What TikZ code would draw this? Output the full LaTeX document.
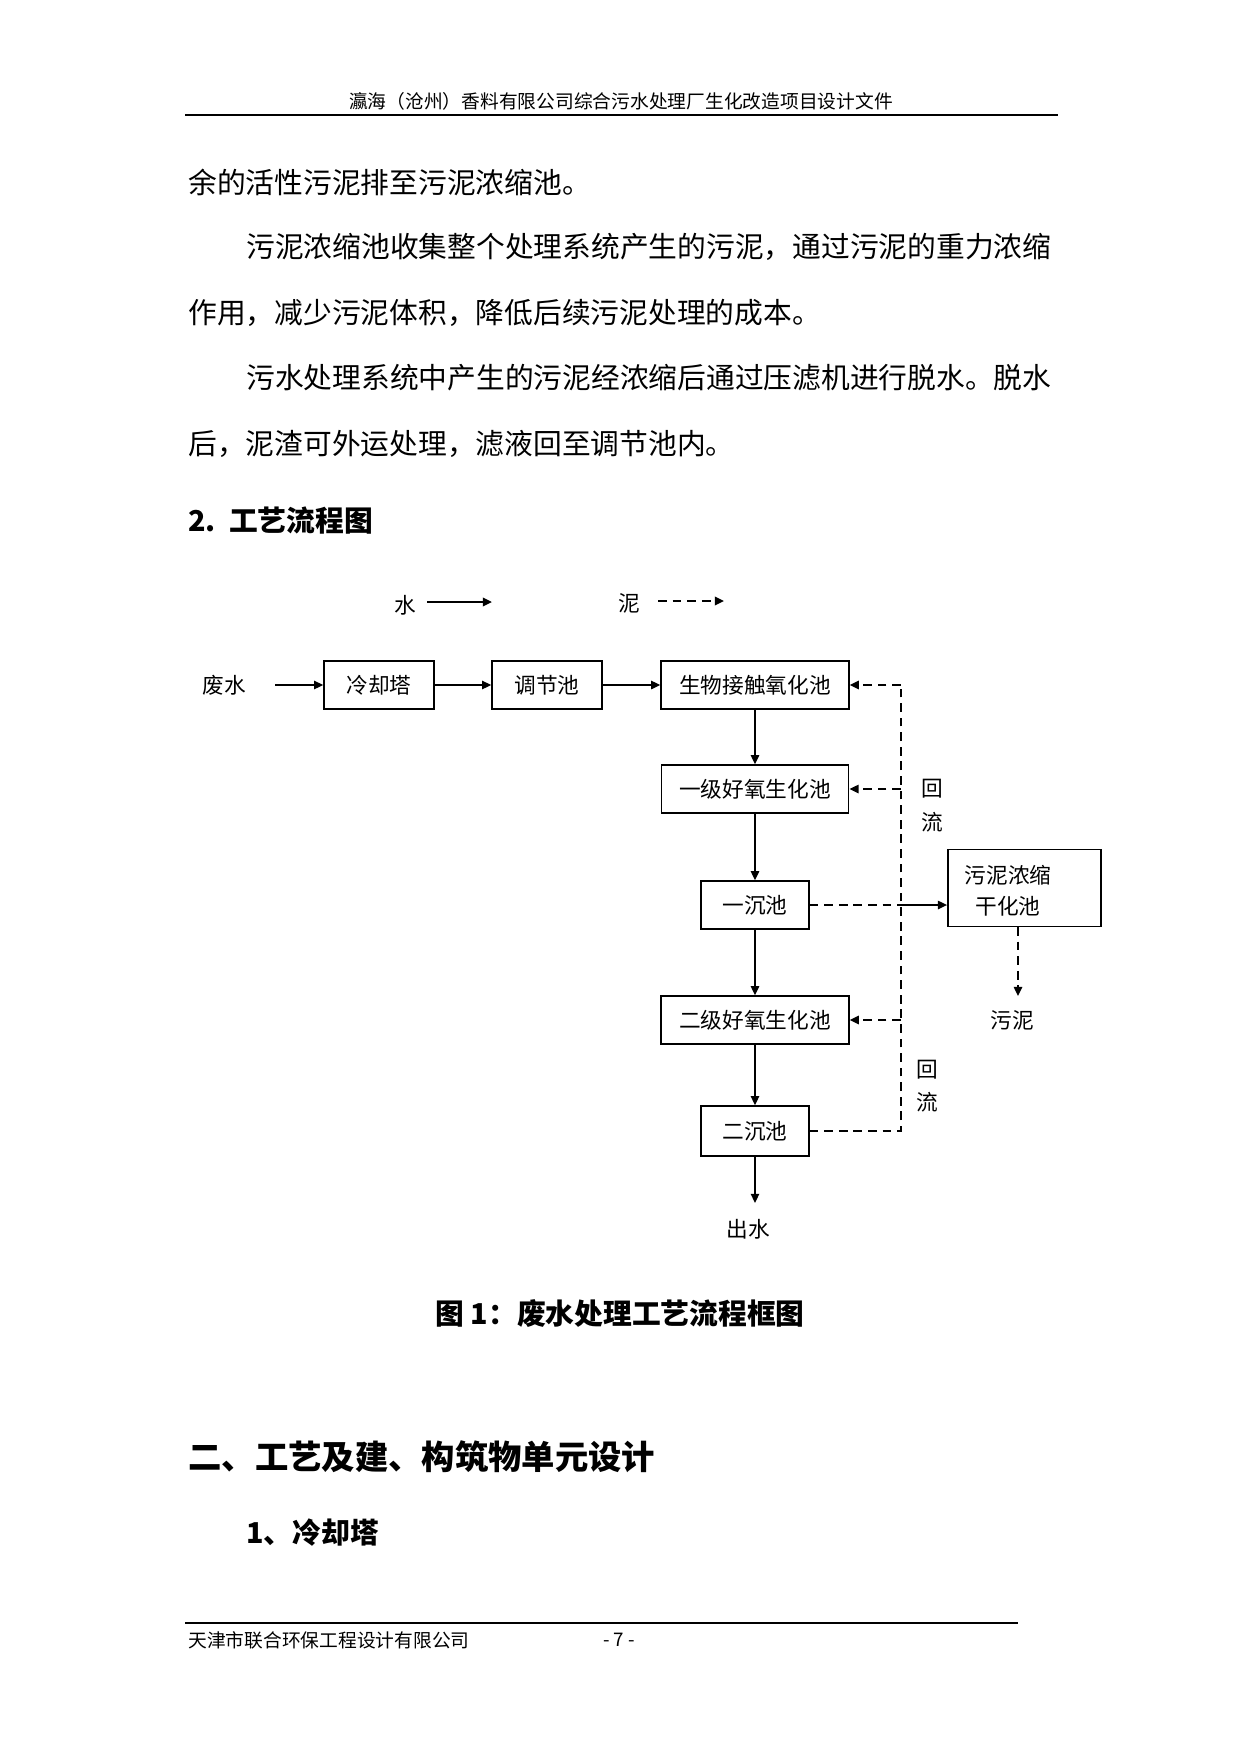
\documentclass[tikz,border=0pt]{standalone}
\usepackage{fontspec}
\setmainfont{Noto Sans CJK SC}
\usetikzlibrary{arrows.meta}
\tikzset{
  body/.style={anchor=west,inner sep=0pt,font=\fontsize{13.8pt}{16pt}\selectfont},
  small/.style={inner sep=0pt,font=\fontsize{9pt}{11pt}\selectfont},
  dlab/.style={inner sep=0pt,font=\fontsize{10.4pt}{12pt}\selectfont},
  box/.style={draw,line width=0.7pt,inner sep=0pt,minimum height=23pt,font=\fontsize{10.4pt}{12pt}\selectfont},
  flow/.style={line width=0.75pt,-{Triangle[length=4.4pt,width=4pt]}},
  sflow/.style={line width=0.9pt,dash pattern=on 4.2pt off 2.8pt},
  sarrow/.style={sflow,-{Triangle[length=4.4pt,width=4pt]}}
}
\begin{document}
\begin{tikzpicture}[x=0.48pt,y=-0.48pt]
\useasboundingbox[fill=white] (0,0) rectangle (1241,1754);
% header
\node[small] (hd) at (621,101) {瀛海（沧州）香料有限公司综合污水处理厂生化改造项目设计文件};
\coordinate (hl1) at (185,115); \coordinate (hl2) at (1058,115);
\draw[line width=1.1pt] (hl1) -- (hl2);
% body text
\node[body] (t1) at (188,182) {余的活性污泥排至污泥浓缩池。};
\node[body] (t2) at (246,247) {污泥浓缩池收集整个处理系统产生的污泥，通过污泥的重力浓缩};
\node[body] (t3) at (188,313) {作用，减少污泥体积，降低后续污泥处理的成本。};
\node[body] (t4) at (246,378) {污水处理系统中产生的污泥经浓缩后通过压滤机进行脱水。脱水};
\node[body] (t5) at (188,444) {后，泥渣可外运处理，滤液回至调节池内。};
\node[body,font=\fontsize{13.8pt}{16pt}\selectfont\bfseries] (h2) at (188,521) {2.\ \ 工艺流程图};
% legend
\node[dlab] (lw) at (405,605) {水};
\coordinate (lwa) at (427,602); \coordinate (lwb) at (492,602);
\draw[flow,line width=1.1pt] (lwa) -- (lwb);
\node[dlab] (ls) at (629,603) {泥};
\coordinate (lsa) at (658,601); \coordinate (lsb) at (724,601);
\draw[sarrow,line width=1.1pt] (lsa) -- (lsb);
% row 1
\node[dlab] (fs) at (224,685) {废水};
\coordinate (fsa) at (275,685);
\node[box,minimum width=52.8pt] (cool) at (379,685) {冷却塔};
\node[box,minimum width=52.8pt] (adj) at (547,685) {调节池};
\node[box,minimum width=90.2pt] (bio) at (755,685) {生物接触氧化池};
\draw[flow] (fsa) -- (cool.west);
\draw[flow] (cool.east) -- (adj.west);
\draw[flow] (adj.east) -- (bio.west);
% main chain
\node[box,minimum width=90pt] (ao1) at (755,789) {一级好氧生化池};
\node[box,minimum width=51.8pt] (s1) at (755,905) {一沉池};
\node[box,minimum width=90.2pt] (ao2) at (755,1020) {二级好氧生化池};
\node[box,minimum width=51.8pt,minimum height=24pt] (s2) at (755,1131) {二沉池};
\node[dlab] (out) at (748,1229) {出水};
\coordinate (outa) at (755,1203);
\draw[flow] (bio.south) -- (ao1.north);
\draw[flow] (ao1.south) -- (s1.north);
\draw[flow] (s1.south) -- (ao2.north);
\draw[flow] (ao2.south) -- (s2.north);
\draw[flow] (s2.south) -- (outa);
% return line
\coordinate (rt) at (901,685);
\coordinate (rb) at (901,1131);
\draw[sflow] (s2.east) -- (rb) -- (rt);
\draw[sarrow] (rt) -- (bio.east);
\draw[sarrow] (ao1.east -| rt) -- (ao1.east);
\draw[sarrow] (ao2.east -| rt) -- (ao2.east);
\node[dlab] (hl1a) at (932,789) {回};
\node[dlab] (hl1b) at (932,822) {流};
\node[dlab] (hl2a) at (927,1070) {回};
\node[dlab] (hl2b) at (927,1102) {流};
% sludge
\node[draw,line width=0.9pt,minimum width=73.4pt,minimum height=37pt,inner sep=0pt] (sl) at (1024.5,888) {};
\node[dlab] (slt1) at (1008,875) {污泥浓缩};
\node[dlab] (slt2) at (1008,906) {干化池};
\draw[sflow] (s1.east) -- (s1.east -| rt);
\draw[flow] (s1.east -| rt) -- (sl.west |- s1.east);
\coordinate (sla) at (1018,927); \coordinate (slb) at (1018,996);
\draw[sarrow] (sla) -- (slb);
\node[dlab] (wn) at (1012,1020) {污泥};
% caption and headings
\node[inner sep=0pt,font=\fontsize{13.8pt}{16pt}\selectfont\bfseries] (cap) at (620,1314) {图 1：废水处理工艺流程框图};
\node[body,font=\fontsize{16pt}{18pt}\selectfont\bfseries] (h3) at (188,1457) {二、工艺及建、构筑物单元设计};
\node[body,font=\fontsize{13.8pt}{16pt}\selectfont\bfseries] (h4) at (246,1533) {1、冷却塔};
% footer
\coordinate (fl1) at (185,1623); \coordinate (fl2) at (1018,1623);
\draw[line width=0.6pt] (fl1) -- (fl2);
\node[small,anchor=west] (ft) at (188,1640) {天津市联合环保工程设计有限公司};
\node[small] (pg) at (619,1640) {- 7 -};
\end{tikzpicture}
\end{document}
